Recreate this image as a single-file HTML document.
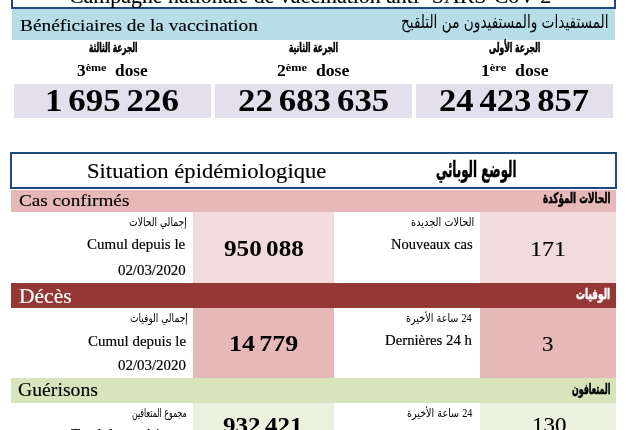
<!DOCTYPE html>
<html lang="fr">
<head>
<meta charset="utf-8">
<title>Situation épidémiologique</title>
<style>
html,body{margin:0;padding:0;background:#fff;}
body{width:631px;height:430px;position:relative;overflow:hidden;font-family:"Liberation Serif",serif;color:#000;}
.r{position:absolute;}
.t{position:absolute;white-space:nowrap;line-height:1;transform-origin:0 50%;}
.ar{font-family:"DejaVu Sans",sans-serif;direction:rtl;}
.b{font-weight:bold;}
.lt{font-family:"Liberation Serif",serif;font-size:12px;}
sup{font-size:70%;vertical-align:baseline;position:relative;top:-0.46em;}
.ws{word-spacing:-0.08em;}
.g{-webkit-text-stroke:0.2px currentColor;}
.c{-webkit-text-stroke:0.15px currentColor;}
.ab{-webkit-text-stroke:0.55px currentColor;}
</style>
</head>
<body>

<!-- top title box -->
<div class="r" style="left:11px;top:-40px;width:601px;height:44.6px;border:2px solid #1f497d;"></div>
<!-- blue band -->
<div class="r" style="left:12px;top:9px;width:603px;height:30.5px;background:#b7dee8;"></div>
<!-- dose boxes -->
<div class="r" style="left:14px;top:84px;width:197px;height:33.8px;background:#e4dfec;"></div>
<div class="r" style="left:215px;top:84px;width:196.5px;height:33.8px;background:#e4dfec;"></div>
<div class="r" style="left:416px;top:84px;width:197px;height:33.8px;background:#e4dfec;"></div>
<!-- section 2 title box -->
<div class="r" style="left:10px;top:152px;width:603px;height:32.5px;border:2px solid #1f497d;"></div>
<!-- cas confirmés band -->
<div class="r" style="left:11px;top:189.5px;width:605px;height:22.5px;background:#e6b8b7;"></div>
<div class="r" style="left:193px;top:212px;width:141px;height:71px;background:#f2dcdb;"></div>
<div class="r" style="left:480px;top:212px;width:136px;height:71px;background:#f2dcdb;"></div>
<!-- décès band -->
<div class="r" style="left:11px;top:283px;width:605px;height:24.8px;background:#953735;"></div>
<div class="r" style="left:193px;top:307.8px;width:141px;height:70px;background:#e6b8b7;"></div>
<div class="r" style="left:480px;top:307.8px;width:136px;height:70px;background:#e6b8b7;"></div>
<!-- guérisons band -->
<div class="r" style="left:11px;top:377.8px;width:605px;height:25px;background:#d8e4bc;"></div>
<div class="r" style="left:193px;top:402.8px;width:141px;height:30px;background:#ebf1de;"></div>
<div class="r" style="left:480px;top:402.8px;width:136px;height:30px;background:#ebf1de;"></div>

<div class="t c" id="title" style="left:68.9px;top:-14.0px;font-size:21px;transform:scaleX(1.042);">Campagne nationale de vaccination anti- SARS-CoV-2</div>
<div class="t c" id="benef" style="left:20.2px;top:17.0px;font-size:17.6px;transform:scaleX(1.099);">Bénéficiaires de la vaccination</div>
<div class="t ar" id="benef_ar" style="left:400.9px;top:12.6px;font-size:18px;transform:scaleX(0.758);">المستفيدات والمستفيدون من التلقيح</div>
<div class="t ar b ab" id="d3ar" style="left:88.8px;top:41.4px;font-size:13px;transform:scaleX(0.566);">الجرعة الثالثة</div>
<div class="t ar b ab" id="d2ar" style="left:289.4px;top:41.4px;font-size:13px;transform:scaleX(0.574);">الجرعة الثانية</div>
<div class="t ar b ab" id="d1ar" style="left:489.2px;top:41.4px;font-size:13px;transform:scaleX(0.582);">الجرعة الأولى</div>
<div class="t b" id="d3" style="left:77.4px;top:63.2px;font-size:15.8px;transform:scaleX(1.094);">3<sup>ème</sup>&nbsp; dose</div>
<div class="t b" id="d2" style="left:276.7px;top:63.2px;font-size:15.8px;transform:scaleX(1.117);">2<sup>ème</sup>&nbsp; dose</div>
<div class="t b" id="d1" style="left:480.5px;top:63.2px;font-size:15.8px;transform:scaleX(1.122);">1<sup>ère</sup>&nbsp; dose</div>
<div class="t b ws" id="n3" style="left:45.4px;top:84.0px;font-size:32px;transform:scaleX(1.089);">1 695 226</div>
<div class="t b ws" id="n2" style="left:237.7px;top:84.0px;font-size:32px;transform:scaleX(1.089);">22 683 635</div>
<div class="t b ws" id="n1" style="left:439.2px;top:84.0px;font-size:32px;transform:scaleX(1.081);">24 423 857</div>
<div class="t c" id="sit" style="left:87.3px;top:161.0px;font-size:21px;transform:scaleX(1.077);">Situation épidémiologique</div>
<div class="t ar b ab" id="sit_ar" style="left:435.5px;top:158.5px;font-size:22px;transform:scaleX(0.536);">الوضع الوبائي</div>
<div class="t c" id="cas" style="left:19.4px;top:192.5px;font-size:16.8px;transform:scaleX(1.144);">Cas confirmés</div>
<div class="t ar b ab" id="cas_ar" style="left:542.5px;top:191.0px;font-size:14.5px;transform:scaleX(0.607);">الحالات المؤكدة</div>
<div class="t ar" id="r1a" style="left:129.2px;top:217.2px;font-size:11.3px;transform:scaleX(0.814);">إجمالي الحالات</div>
<div class="t g" id="r1b" style="left:87.0px;top:236.4px;font-size:15.5px;transform:scaleX(0.967);">Cumul depuis le</div>
<div class="t g" id="r1c" style="left:118.2px;top:262.8px;font-size:14.2px;transform:scaleX(1.047);">02/03/2020</div>
<div class="t b ws" id="r1n" style="left:223.6px;top:236.4px;font-size:24px;transform:scaleX(1.049);">950 088</div>
<div class="t ar" id="r1d" style="left:410.8px;top:216.7px;font-size:11.3px;transform:scaleX(0.869);">الحالات الجديدة</div>
<div class="t g" id="r1e" style="left:390.6px;top:237.1px;font-size:15px;transform:scaleX(0.966);">Nouveaux cas</div>
<div class="t c" id="r1m" style="left:530.2px;top:239.0px;font-size:21px;transform:scaleX(1.148);">171</div>
<div class="t c" id="dec" style="left:19.0px;top:286.1px;font-size:20.7px;transform:scaleX(1.040);color:#fff;">Décès</div>
<div class="t ar b ab" id="dec_ar" style="left:576.0px;top:286.7px;font-size:15px;transform:scaleX(0.600);color:#fff;">الوفيات</div>
<div class="t ar" id="r2a" style="left:129.6px;top:313.0px;font-size:11.3px;transform:scaleX(0.804);">إجمالي الوفيات</div>
<div class="t g" id="r2b" style="left:87.6px;top:332.6px;font-size:15.5px;transform:scaleX(0.965);">Cumul depuis le</div>
<div class="t g" id="r2c" style="left:118.0px;top:358.0px;font-size:14.2px;transform:scaleX(1.050);">02/03/2020</div>
<div class="t b ws" id="r2n" style="left:229.3px;top:331.2px;font-size:24px;transform:scaleX(1.079);">14 779</div>
<div class="t ar" id="r2d" style="left:406.3px;top:311.9px;font-size:11.3px;transform:scaleX(0.853);"><span class="lt">24</span> ساعة الأخيرة</div>
<div class="t g" id="r2e" style="left:384.8px;top:332.9px;font-size:15px;transform:scaleX(0.984);">Dernières 24 h</div>
<div class="t c" id="r2m" style="left:541.9px;top:334.3px;font-size:21px;transform:scaleX(1.089);">3</div>
<div class="t c" id="gue" style="left:18.4px;top:379.9px;font-size:19.6px;transform:scaleX(1.006);">Guérisons</div>
<div class="t ar b ab" id="gue_ar" style="left:571.5px;top:381.8px;font-size:15px;transform:scaleX(0.526);">المتعافون</div>
<div class="t ar" id="r3a" style="left:132.2px;top:407.4px;font-size:12.3px;transform:scaleX(0.638);">مجموع المتعافين</div>
<div class="t g" id="r3b" style="left:70.6px;top:425.5px;font-size:15.5px;transform:scaleX(0.968);">Total des guérisons</div>
<div class="t b ws" id="r3n" style="left:222.6px;top:413.4px;font-size:24px;transform:scaleX(1.045);">932 421</div>
<div class="t ar" id="r3d" style="left:407.0px;top:407.4px;font-size:11.3px;transform:scaleX(0.848);"><span class="lt">24</span> ساعة الأخيرة</div>
<div class="t g" id="r3e" style="left:384.8px;top:428.0px;font-size:15px;transform:scaleX(0.984);">Dernières 24 h</div>
<div class="t c" id="r3m" style="left:532.1px;top:415.1px;font-size:21px;transform:scaleX(1.090);">130</div>
</body>
</html>
